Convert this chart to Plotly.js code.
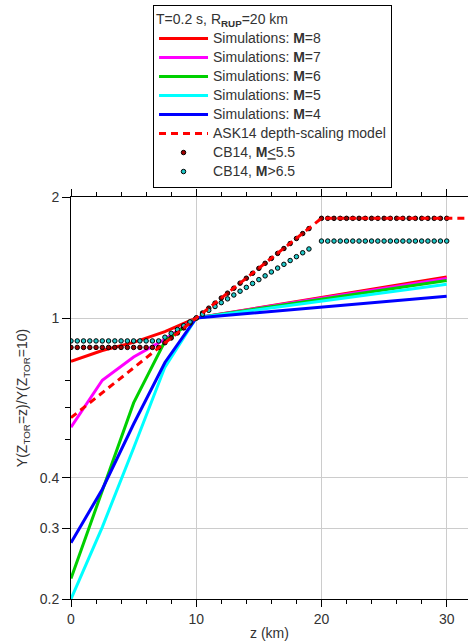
<!DOCTYPE html>
<html>
<head>
<meta charset="utf-8">
<script src="https://cdn.plot.ly/plotly-3.0.1.min.js"></script>
<style>html,body{margin:0;padding:0;background:#fff;}#chart{width:468px;height:641px;}</style>
</head>
<body>
<div id="chart"></div>
<script>
// ---- data ----
var simZ = [0, 2.5, 5, 7.5, 10, 20, 30];
var simM8 = [0.78, 0.83, 0.87, 0.925, 1.0, 1.126, 1.265];
var simM7 = [0.535, 0.70, 0.80, 0.885, 1.0, 1.12, 1.255];
var simM6 = [0.225, 0.37, 0.615, 0.875, 1.0, 1.113, 1.24];
var simM5 = [0.2, 0.302, 0.475, 0.755, 1.0, 1.102, 1.214];
var simM4 = [0.276, 0.375, 0.545, 0.775, 1.0, 1.064, 1.133];

var askZ = [0, 20, 31.7];
var askY = [0.565, 1.77, 1.77];

var cbZ = [0, 0.5, 1, 1.5, 2, 2.5, 3, 3.5, 4, 4.5, 5, 5.5, 6, 6.5, 7,
  7.5, 8, 8.5, 9, 9.5, 10, 10.5, 11, 11.5, 12, 12.5, 13, 13.5, 14, 14.5, 15, 15.5, 16, 16.5, 17, 17.5, 18, 18.5, 19,
  20, 20.5, 21, 21.5, 22, 22.5, 23, 23.5, 24, 24.5, 25, 25.5, 26, 26.5, 27, 27.5, 28, 28.5, 29, 29.5, 30];
var cbSmall = [0.845, 0.845, 0.845, 0.845, 0.845, 0.845, 0.845, 0.845, 0.845, 0.845, 0.845, 0.845, 0.845, 0.845, 0.845,
  0.868, 0.892, 0.918, 0.945, 0.972, 1.0, 1.029, 1.058, 1.089, 1.121, 1.153, 1.186, 1.221, 1.256, 1.292, 1.329, 1.368, 1.407, 1.448, 1.489, 1.532, 1.577, 1.622, 1.669,
  1.77, 1.77, 1.77, 1.77, 1.77, 1.77, 1.77, 1.77, 1.77, 1.77, 1.77, 1.77, 1.77, 1.77, 1.77, 1.77, 1.77, 1.77, 1.77, 1.77, 1.77];
var cbLarge = [0.877, 0.877, 0.877, 0.877, 0.877, 0.877, 0.877, 0.877, 0.877, 0.877, 0.877, 0.877, 0.877, 0.877, 0.877,
  0.896, 0.916, 0.936, 0.957, 0.978, 1.0, 1.022, 1.045, 1.068, 1.092, 1.116, 1.141, 1.166, 1.192, 1.219, 1.246, 1.273, 1.302, 1.331, 1.360, 1.390, 1.421, 1.453, 1.485,
  1.554, 1.554, 1.554, 1.554, 1.554, 1.554, 1.554, 1.554, 1.554, 1.554, 1.554, 1.554, 1.554, 1.554, 1.554, 1.554, 1.554, 1.554, 1.554, 1.554, 1.554];

var yTickVals = [0.2, 0.3, 0.4, 1, 2];
var yTickText = ['0.2', '0.3', '0.4', '1', '2'];
var yMinorVals = [0.5, 0.6, 0.7];
var xTickVals = [0, 10, 20, 30];

// ---- traces ----
function big(s) { return '<span style="font-size:14px">' + s + '</span>'; }
function simTrace(y, name, color) {
  return {x: simZ, y: y, type: 'scatter', mode: 'lines', name: big(name),
    line: {color: color, width: 3}};
}
var traces = [
  simTrace(simM8, 'Simulations: <b>M</b>=8', '#ff0000'),
  simTrace(simM7, 'Simulations: <b>M</b>=7', '#ff00ff'),
  simTrace(simM6, 'Simulations: <b>M</b>=6', '#00d000'),
  simTrace(simM5, 'Simulations: <b>M</b>=5', '#00ffff'),
  simTrace(simM4, 'Simulations: <b>M</b>=4', '#0000ff'),
  {x: cbZ, y: cbSmall, type: 'scatter', mode: 'markers', name: big('CB14, <b>M</b><u>&lt;</u>5.5'), legendrank: 1007,
    marker: {size: 4.5, color: '#a00000', line: {color: '#000', width: 1}}},
  {x: cbZ, y: cbLarge, type: 'scatter', mode: 'markers', name: big('CB14, <b>M</b>&gt;6.5'), legendrank: 1008,
    marker: {size: 4.5, color: '#20c8c8', line: {color: '#000', width: 1}}},
  {x: askZ, y: askY, type: 'scatter', mode: 'lines', name: big('ASK14 depth-scaling model'), legendrank: 1006,
    line: {color: '#ff0000', width: 3, dash: '7px,5px'}}
];
for (var i = 0; i < 5; i++) traces[i].legendrank = 1000 + i;

var font = {family: 'Liberation Sans, Arial, sans-serif', size: 14, color: '#333'};
var layout = {
  width: 468, height: 641,
  margin: {l: 71, r: 0, t: 197, b: 42},
  paper_bgcolor: '#fff', plot_bgcolor: '#fff',
  font: font,
  showlegend: true,
  legend: {
    x: 0.2066, y: 1.478, xanchor: 'left', yanchor: 'top',
    bgcolor: '#fff', bordercolor: '#000', borderwidth: 1,
    itemwidth: 49,
    font: {family: 'Liberation Sans, Arial, sans-serif', size: 12, color: '#333'},
    title: {text: 'T=0.2 s, R<sub><b>RUP</b></sub>=20 km', font: {family: 'Liberation Sans, Arial, sans-serif', size: 14, color: '#333'}},
    traceorder: 'normal'
  },
  xaxis: {
    range: [0, 31.7], tickmode: 'array', tickvals: xTickVals,
    showline: true, linecolor: '#000', linewidth: 1, mirror: 'ticks',
    ticks: 'outside', ticklen: 7, tickcolor: '#000',
    showgrid: true, gridcolor: '#cccccc', gridwidth: 1, zeroline: false,
    minor: {dtick: 2, tick0: 0, ticks: 'outside', ticklen: 4, tickcolor: '#000', showgrid: false},
    title: {text: 'z (km)', font: {size: 14, color: '#333'}, standoff: 4},
    tickfont: {size: 14, color: '#333'}
  },
  yaxis: {
    type: 'log', range: [Math.log10(0.2), Math.log10(2)],
    tickmode: 'array', tickvals: yTickVals, ticktext: yTickText,
    showline: true, linecolor: '#000', linewidth: 1, mirror: false,
    ticks: 'outside', ticklen: 8, tickcolor: '#000',
    showgrid: true, gridcolor: '#cccccc', gridwidth: 1, zeroline: false,
    minor: {tickmode: 'array', tickvals: yMinorVals, ticks: 'outside', ticklen: 5, tickcolor: '#000', showgrid: false},
    title: {text: 'Y(Z<sub>TOR</sub>=z)/Y(Z<sub>TOR</sub>=10)', font: {size: 14, color: '#333'}, standoff: 8},
    tickfont: {size: 14, color: '#333'}
  }
};
Plotly.newPlot('chart', traces, layout, {displayModeBar: false, staticPlot: true});
</script>
</body>
</html>
